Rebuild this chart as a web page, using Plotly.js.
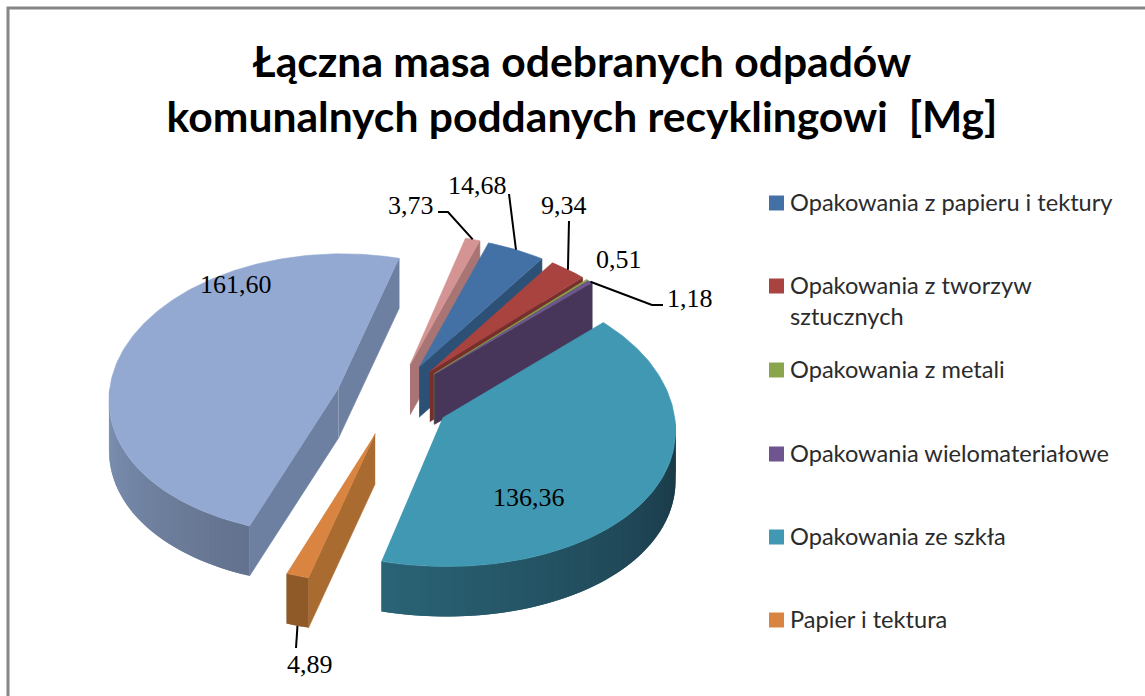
<!DOCTYPE html>
<html><head><meta charset="utf-8">
<script src="https://cdn.plot.ly/plotly-3.0.1.min.js"></script>
<style>html,body{margin:0;padding:0;background:#fff}#c{width:1145px;height:696px}</style>
</head><body><div id="c"></div>
<script>
const categories=["Opakowania z papieru i tektury","Opakowania z tworzyw<br>sztucznych","Opakowania z metali","Opakowania wielomateriałowe","Opakowania ze szkła","Papier i tektura","Inne 1","Inne 2"];
const values=[14.68,9.34,0.51,1.18,136.36,4.89,161.60,3.73];
const valueLabels=["14,68","9,34","0,51","1,18","136,36","4,89","161,60","3,73"];
const topColors=["#4371a6","#a8433f","#8aa64c","#6f5590","#4198b2","#d98440","#94a9d2","#d39493"];
const sideColors=["#2d5076","#782f2c","#64783a","#47355a","#245a6b","#a96b30","#6d80a1","#a97574"];
const wallStart=["#2d5076","#782f2c","#64783a","#47355a","#2a6476","#8f5a28","#63728e","#a97574"];
const wallEnd=["#2d5076","#782f2c","#64783a","#47355a","#193644","#8f5a28","#7f94b6","#a97574"];
const labelPos=[[477,185],[564,205],[619,259],[690,298],[529,497],[310,664],[236,284],[411,205]];
const leaders=[[[509,194]],[[569,221]],null,[[663,305],[652,305]],null,[[296,648]],null,[[438,212],[448,212]]];
const legendRows=[203,286,370,454,537,620];

const cx=393,cy=399,rx=230,ry=145,depth=50,perspFar=0.07,perspNearX=0.07,perspNearY=0.02,explode=0.25,startAngle=19.5;
const rad=d=>d*Math.PI/180;
function project(theta,r,phi,z){
  const X=explode*Math.sin(rad(phi))+r*Math.sin(rad(theta));
  const Y=explode*Math.cos(rad(phi))+r*Math.cos(rad(theta));
  const fx=1/(1+(Y>0?perspFar:perspNearX)*Y);
  const fy=1/(1+(Y>0?perspFar:perspNearY)*Y);
  return [cx+rx*X*fx, cy-ry*Y*fy+depth*z];
}
function poly(pts,color,w){
  return {type:'scatter',mode:'lines',x:pts.map(p=>p[0]),y:pts.map(p=>p[1]),fill:'toself',fillcolor:color,
    line:{color:color,width:w===undefined?0.6:w},hoverinfo:'skip',showlegend:false};
}
function mix(a,b,t){
  const h=s=>[1,3,5].map(i=>parseInt(s.substr(i,2),16));
  const A=h(a),B=h(b);
  return 'rgb('+A.map((v,i)=>Math.round(v+(B[i]-v)*t)).join(',')+')';
}
const total=values.reduce((a,b)=>a+b,0);
let acc=startAngle;
const slices=values.map((v,i)=>{const s=acc,e=acc+v/total*360;acc=e;return {i,s,e,m:(s+e)/2};});
const order=slices.slice().sort((a,b)=>Math.cos(rad(b.m))-Math.cos(rad(a.m)));
const traces=[];
order.forEach(sl=>{
  const {i,s,e,m}=sl;
  // radial side faces
  [[s,Math.sin(rad(s))<0],[e,Math.sin(rad(e))>0]].forEach(([t,vis])=>{
    if(vis) traces.push(poly([project(0,0,m,0),project(t,1,m,0),project(t,1,m,1),project(0,0,m,1)],sideColors[i]));
  });
  // outer wall, cut into overlapping strips for shading
  const vs=Math.max(s,90), ve=Math.min(e,270);
  const step=1.5;
  for(let t=vs;t<ve;t+=step){
    const t2=Math.min(t+step+1.5,ve);
    const p=(ve-vs)>0?(t-vs)/(ve-vs):0;
    const c=mix(wallStart[i],wallEnd[i],i===6?p:1-p);
    traces.push(poly([project(t,1,m,0),project(t2,1,m,0),project(t2,1,m,1),project(t,1,m,1)],c,0));
  }
  // top face
  const top=[project(0,0,m,0)];
  for(let t=s;t<e;t+=1) top.push(project(t,1,m,0));
  top.push(project(e,1,m,0));
  traces.push(poly(top,topColors[i]));
});
// leader lines: from label elbow to the slice rim
slices.forEach(({i,m})=>{
  if(!leaders[i]) return;
  const rim=project(m,1,m,i===5?1:0);
  const pts=leaders[i].concat([rim]);
  traces.push({type:'scatter',mode:'lines',x:pts.map(p=>p[0]),y:pts.map(p=>p[1]),line:{color:'#000',width:2},hoverinfo:'skip',showlegend:false});
});
// legend keys
traces.push({type:'scatter',mode:'markers',x:legendRows.map(()=>776.5),y:legendRows,
  marker:{symbol:'square',size:15,color:topColors.slice(0,6)},hoverinfo:'skip',showlegend:false});

const annotations=[];
valueLabels.forEach((t,i)=>annotations.push({x:labelPos[i][0],y:labelPos[i][1],text:t,showarrow:false,xanchor:'center',yanchor:'middle',
  font:{family:'"Liberation Serif",serif',size:26,color:'#000'}}));
legendRows.forEach((y,i)=>{
  annotations.push({x:788,y:y-17,yanchor:'top',xanchor:'left',align:'left',text:categories[i],showarrow:false,
    font:{family:'Lato,sans-serif',size:23.6,color:'#2b2b2b'}});
});

const layout={width:1145,height:696,margin:{l:0,r:0,t:0,b:0},paper_bgcolor:'#fff',plot_bgcolor:'#fff',showlegend:false,
  title:{text:'Łączna masa odebranych odpadów<br>komunalnych poddanych recyklingowi  [Mg]',x:582/1145,xref:'paper',xanchor:'center',y:1-77/696,yref:'paper',yanchor:'middle',
    font:{family:'Lato,sans-serif',size:42.6,color:'#000',weight:700}},
  xaxis:{range:[0,1145],visible:false,fixedrange:true},
  yaxis:{range:[696,0],visible:false,fixedrange:true},
  shapes:[{type:'rect',xref:'x',yref:'y',x0:8,y0:8,x1:1160,y1:720,line:{color:'#868686',width:3},fillcolor:'rgba(0,0,0,0)',layer:'below'}],
  annotations};
Plotly.newPlot('c',traces,layout,{displayModeBar:false,staticPlot:true});
</script></body></html>
